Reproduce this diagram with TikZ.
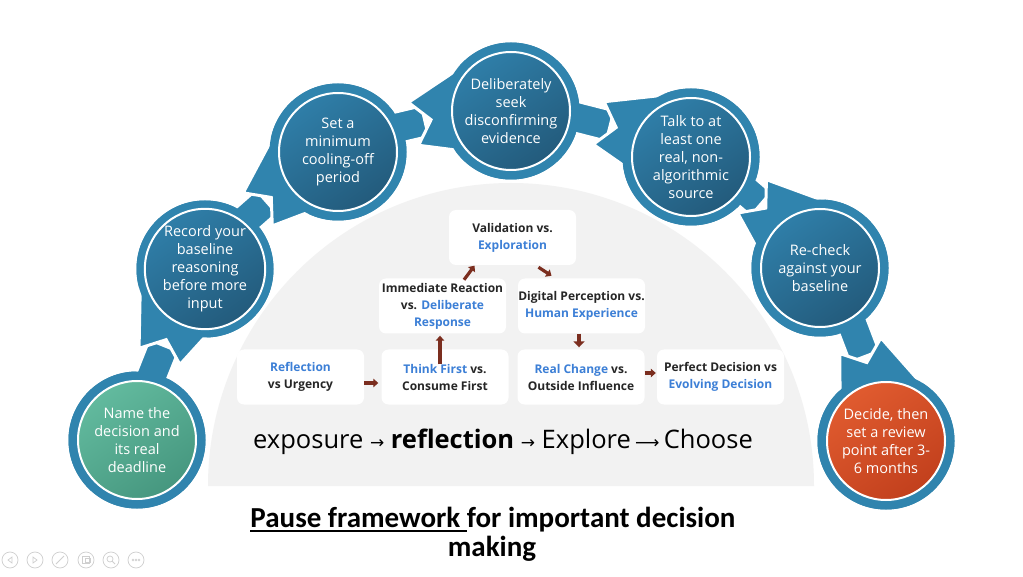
\documentclass[tikz,border=0pt]{standalone}
\usepackage{fontspec}
\setmainfont{Open Sans}
\newfontfamily\titlefont{Carlito}
\newfontfamily\arrfont{DejaVu Sans}
\usetikzlibrary{arrows.meta}
\definecolor{ringblue}{HTML}{3084AE}
\definecolor{innertop}{HTML}{2F7EA8}
\definecolor{innerbot}{HTML}{235B7C}
\definecolor{greentop}{HTML}{62BA9E}
\definecolor{greenbot}{HTML}{46977F}
\definecolor{orangetop}{HTML}{E05B2F}
\definecolor{orangebot}{HTML}{C2401D}
\definecolor{domegray}{HTML}{F2F2F2}
\definecolor{arrbrown}{HTML}{7B2E1F}
\definecolor{bluetxt}{HTML}{3C7FD6}
\definecolor{darktxt}{HTML}{262626}
\definecolor{toolgray}{HTML}{CFCFCF}
\newcommand\bl[1]{\textcolor{bluetxt}{#1}}
\newcommand\myul[1]{\setbox0\hbox{#1}\rlap{\rule[-3.8pt]{\wd0}{1.9pt}}\box0}
% #1 = node A, #2 = angle of the chord A->B, #3 = distance A-B
\newcommand\joint[3]{%
  \begin{scope}[shift={(#1)},rotate=#2]
    \path[tabshape] (50,-5) -- ({#3-87},-5) -- ({#3-87},25) -- (50,25) -- cycle;
    \path[wedgeshape] ({#3-42},53) -- ({#3-98},32) -- ({#3-80},10) -- ({#3-98},-12) -- ({#3-42},-33) -- cycle;
  \end{scope}}
\tikzset{
  ring/.style={circle,fill=ringblue,minimum size=137,inner sep=0},
  inner/.style={circle,draw=white,line width=2,minimum size=118,inner sep=0,
    text=white,align=center,font=\fontsize{14.5}{18}\selectfont},
  bluefill/.style={top color=innertop,bottom color=innerbot,shading angle=35},
  greenfill/.style={top color=greentop,bottom color=greenbot,shading angle=35},
  orangefill/.style={top color=orangetop,bottom color=orangebot,shading angle=35},
  tabshape/.style={fill=ringblue,draw=white,line width=1.6},
  wedgeshape/.style={fill=ringblue,draw=white,line width=3},
  box/.style={rounded corners=7,fill=white,minimum width=127,minimum height=55,
    inner sep=0,align=center,text=darktxt,font=\bfseries\fontsize{12}{17}\selectfont},
  blk/.style={draw=arrbrown,line width=3.2,-{Triangle[width=8.5,length=5]}},
  tool/.style={circle,draw=toolgray,line width=0.7,minimum size=16,inner sep=0}
}
\begin{document}
\begin{tikzpicture}[x=1pt,y=1pt]
\fill[white] (0,0) rectangle (1023,-577);
\useasboundingbox (0,0) rectangle (1023,-577);
% gray dome
\fill[domegray] (208,-486) arc[start angle=180,end angle=0,radius=303] -- cycle;
% ring nodes
\node[ring] (c1) at (137,-440) {};
\node[ring] (c2) at (205,-269) {};
\node[ring] (c3) at (338,-152) {};
\node[ring] (c4) at (511,-111) {};
\node[ring] (c5) at (691,-157) {};
\node[ring] (c6) at (820,-268) {};
\node[ring] (c7) at (886,-441) {};
% joints
\joint{c1}{68.3}{184}
\joint{c2}{41.3}{177}
\joint{c3}{13.3}{178}
\joint{c4}{-14.3}{186}
\joint{c5}{-40.7}{170}
\joint{c6}{-69.1}{185}
% rings redrawn on top
\foreach \c in {c1,c2,c3,c4,c5,c6,c7} \fill[ringblue] (\c) circle[radius=68.5];
% inner circles
\node[inner,greenfill] (t1) at (c1) {Name the\\decision and\\its real\\deadline};
\node[inner,bluefill] (t2) at (c2) {Record your\\baseline\\reasoning\\before more\\input};
\node[inner,bluefill] (t3) at (c3) {Set a\\minimum\\cooling-off\\period};
\node[inner,bluefill] (t4) at (c4) {Deliberately\\seek\\disconfirming\\evidence};
\node[inner,bluefill] (t5) at (c5) {Talk to at\\least one\\real, non-\\algorithmic\\source};
\node[inner,bluefill] (t6) at (c6) {Re-check\\against your\\baseline};
\node[inner,orangefill] (t7) at (c7) {Decide, then\\set a review\\point after 3-\\6 months};
% boxes
\node[box] (val) at (512.5,-237.5) {Validation vs.\\\bl{Exploration}};
\node[box] (imm) at (442.5,-306) {Immediate Reaction\\vs. \bl{Deliberate}\\\bl{Response}};
\node[box] (dig) at (581.5,-306) {Digital Perception vs.\\\bl{Human Experience}};
\node[box] (ref) at (300.5,-377) {\bl{Reflection}\\vs Urgency};
\node[box] (thk) at (445,-377) {\bl{Think First} vs.\\Consume First};
\node[box] (rea) at (581,-377) {\bl{Real Change} vs.\\Outside Influence};
\node[box] (per) at (720.5,-377) {Perfect Decision vs\\\bl{Evolving Decision}};
% small arrows
\draw[blk] ([yshift=-6]ref.east) -- ([xshift=-3,yshift=-6]thk.west);
\draw[blk] ([xshift=-5,yshift=-15]thk.north) -- ([xshift=-2.5,yshift=-2]imm.south);
\draw[blk] ([xshift=21.5,yshift=-1.5]imm.north) -- ([xshift=-38,yshift=-0.5]val.south);
\draw[blk] ([xshift=26,yshift=-2]val.south) -- ([xshift=-30,yshift=2.5]dig.north);
\draw[blk,line width=4,-{Triangle[width=11,length=6]}] ([xshift=-2.5]dig.south) -- ([xshift=-2,yshift=2]rea.north);
\draw[blk] ([yshift=4]rea.east) -- ([xshift=-1,yshift=4]per.west);
% flow text
\node[font=\fontsize{25.5}{30}\selectfont,text=black] (flow) at (503,-442)
  {exposure {\arrfont\fontsize{17}{20}\selectfont →} \textbf{reflection} {\arrfont\fontsize{17}{20}\selectfont →} Explore\,{\arrfont\fontsize{17}{20}\selectfont ⟶}\,Choose};
% title
\node[font=\titlefont\bfseries\fontsize{29}{29}\selectfont,text=black] (title1) at (493,-520)
  {\myul{Pause framework\ }for important decision};
\node[font=\titlefont\bfseries\fontsize{29}{29}\selectfont,text=black] (title2) at (492,-549) {making};
% slideshow toolbar
\node[tool] (b1) at (10,-560) {};
\node[tool] (b2) at (35,-560) {};
\node[tool] (b3) at (60,-560) {};
\node[tool] (b4) at (86,-560) {};
\node[tool] (b5) at (111,-560) {};
\node[tool] (b6) at (136,-560) {};
\draw[toolgray,line width=0.7] ([xshift=2,yshift=3]b1.center) -- ([xshift=-2]b1.center) -- ([xshift=2,yshift=-3]b1.center) -- cycle;
\draw[toolgray,line width=0.7] ([xshift=-2,yshift=3]b2.center) -- ([xshift=2]b2.center) -- ([xshift=-2,yshift=-3]b2.center) -- cycle;
\draw[toolgray,line width=0.9] ([xshift=-4,yshift=-4]b3.center) -- ([xshift=4,yshift=4]b3.center);
\draw[toolgray,line width=0.7] ([xshift=-4,yshift=-3]b4.center) rectangle ([xshift=3,yshift=4]b4.center);
\draw[toolgray,line width=0.7] ([xshift=-1,yshift=-2]b4.center) rectangle ([xshift=4,yshift=2]b4.center);
\draw[toolgray,line width=0.7] ([xshift=-1,yshift=1]b5.center) circle[radius=3];
\draw[toolgray,line width=0.9] ([xshift=1.2,yshift=-1.2]b5.center) -- ([xshift=4,yshift=-4]b5.center);
\foreach \dx in {-3,0,3} \draw[toolgray,line width=0.5] ([xshift=\dx]b6.center) circle[radius=1];
\end{tikzpicture}
\end{document}
